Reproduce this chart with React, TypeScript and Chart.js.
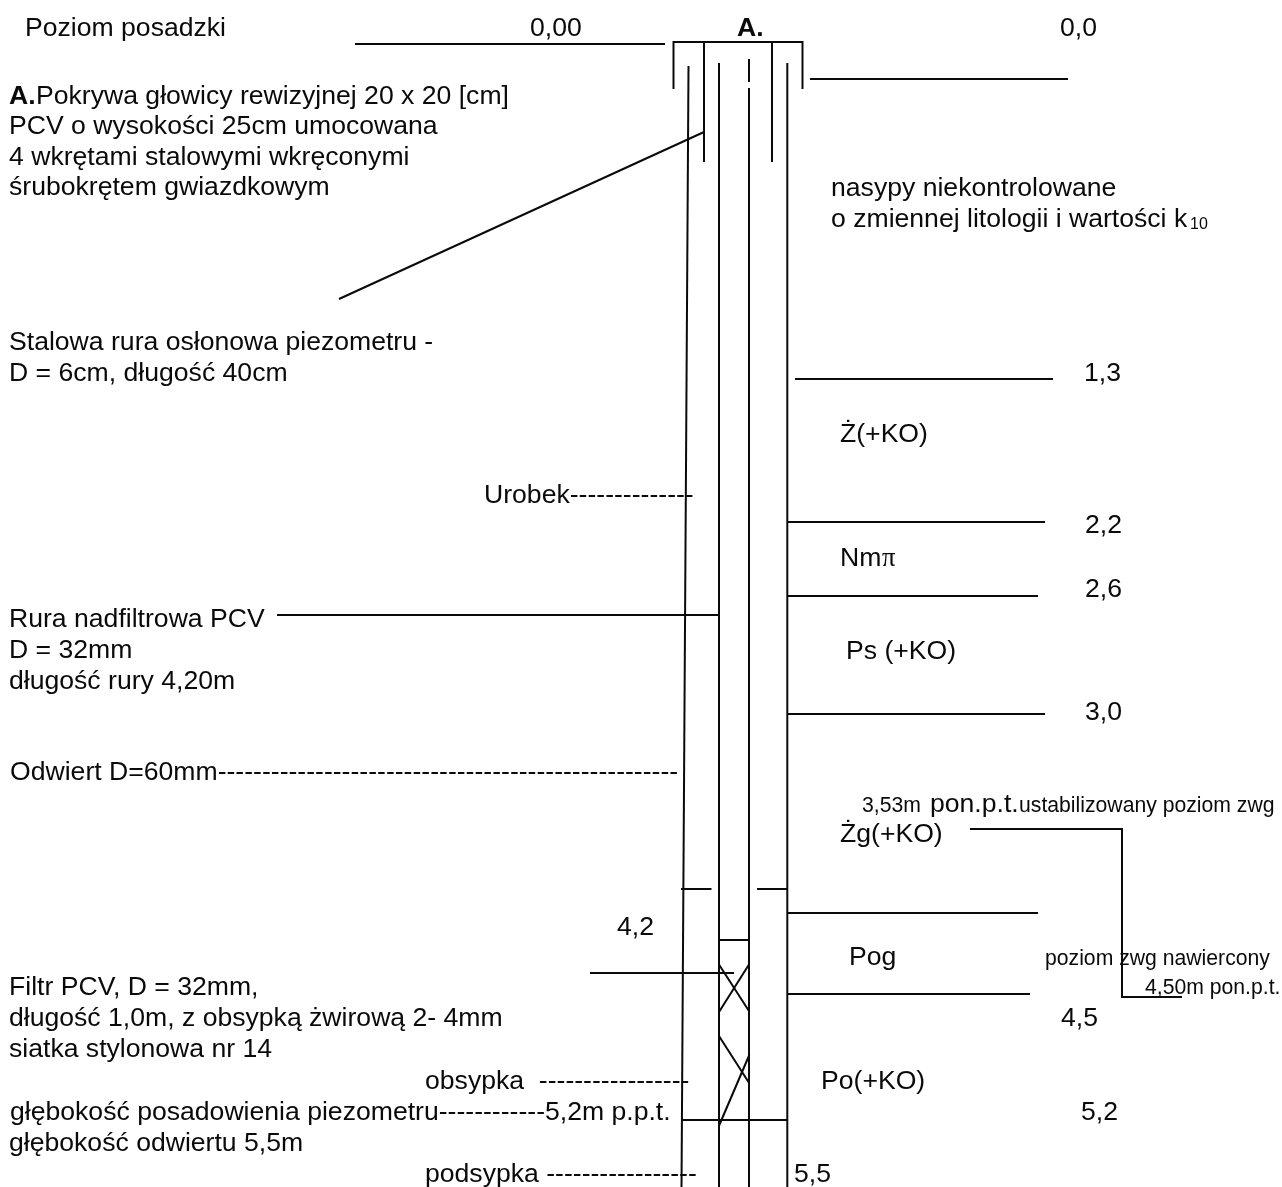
import React, { useEffect, useRef } from "react";
import { Chart, registerables } from "chart.js";

Chart.register(...registerables);

// Drawing units: the sheet is measured 0..1282 across and 0..1187 down.
const SHEET_WIDTH = 1282;
const SHEET_HEIGHT = 1187;

// Well head and casing
const headCap = [[673.5, 89], [673.5, 42], [802.5, 42], [802.5, 89]];
const casingLeft = [[704, 42], [704, 162]];
const casingRight = [[772, 42], [772, 162]];
// Bore and pipe walls
const boreLeft = [[688.5, 66], [681.5, 1187]];
const pipeLeft = [[719, 63], [719, 1187]];
const pipeRightTop = [[749, 59], [749, 82]];
const pipeRight = [[749, 88], [749, 1187]];
const boreRight = [[787.3, 63], [787.3, 1187]];
// Leader lines
const floorLeader = [[355, 44], [665, 44]];
const coverLeader = [[704, 132], [339, 299]];
const riserLeader = [[277, 615], [719, 615]];
const filterLeader = [[590, 973], [734, 973]];
const waterLeader = [[970, 829], [1122, 829], [1122, 997], [1182, 997]];
// Stratum boundaries
const layer00 = [[810, 79], [1068, 79]];
const layer13 = [[795, 379], [1053, 379]];
const layer22 = [[787, 522], [1045, 522]];
const layer26 = [[787, 596], [1038, 596]];
const layer30 = [[787, 714], [1045, 714]];
const layer42 = [[787, 913], [1038, 913]];
const layer45 = [[787, 994], [1030, 994]];
// Ticks and filter crosses
const sealLeft = [[681, 889], [711.5, 889]];
const sealRight = [[757, 889], [787, 889]];
const filterTop = [[719, 940], [749, 940]];
const crossA1 = [[719.3, 965], [749.3, 1011.5]];
const crossA2 = [[749.3, 964], [719.3, 1011.5]];
const crossB1 = [[719.3, 1036.5], [749.3, 1083.3]];
const crossB2 = [[749.3, 1055], [719.3, 1125]];
const bottomLine = [[681, 1120], [787, 1120]];
const speck = [[1130, 817], [1130.8, 817]];

const polylines = [
  headCap, casingLeft, casingRight, boreLeft, pipeLeft, pipeRightTop, pipeRight, boreRight,
  floorLeader, coverLeader, riserLeader, filterLeader, waterLeader,
  layer00, layer13, layer22, layer26, layer30, layer42, layer45,
  sealLeft, sealRight, filterTop, crossA1, crossA2, crossB1, crossB2, bottomLine, speck,
];

const labels = [
  "Poziom posadzki", "0,00", "0,0",
  "Pokrywa głowicy rewizyjnej 20 x 20 [cm]", "PCV o wysokości 25cm umocowana",
  "4 wkrętami stalowymi wkręconymi", "śrubokrętem gwiazdkowym",
  "nasypy niekontrolowane", "o zmiennej litologii i wartości k",
  "Stalowa rura osłonowa piezometru -", "D = 6cm, długość 40cm", "1,3", "Ż(+KO)",
  "Urobek--------------", "2,2", "Nm", "2,6", "Rura nadfiltrowa PCV", "Ps (+KO)",
  "D = 32mm", "długość rury 4,20m", "3,0",
  "Odwiert D=60mm----------------------------------------------------",
  "pon.p.t.", "Żg(+KO)", "4,2", "Pog", "Filtr PCV, D = 32mm,",
  "długość 1,0m, z obsypką żwirową 2- 4mm", "4,5", "siatka stylonowa nr 14",
  "obsypka  -----------------", "Po(+KO)",
  "głębokość posadowienia piezometru------------5,2m p.p.t.", "5,2",
  "głębokość odwiertu 5,5m", "podsypka -----------------", "5,5",
];
const labelAnchors = [
  [25, 36], [530, 36], [1060, 36],
  [36, 104], [9, 134], [9, 165], [9, 195], [831, 196], [831, 227],
  [9, 350], [9, 381], [1084, 381], [840, 442],
  [484, 503], [1085, 533], [840, 566], [1085, 597], [9, 627], [846, 659],
  [9, 658], [9, 689], [1085, 720], [10, 780],
  [930, 812], [840, 842], [617, 935], [849, 965], [9, 995],
  [9, 1026], [1061, 1026], [9, 1057], [425, 1089], [821, 1089],
  [10, 1120], [1081, 1120], [9, 1151], [425, 1182], [794, 1182],
];

const boldLabels = ["A.", "A."];
const boldAnchors = [[737, 36], [9, 104]];

const smallLabels = [
  "3,53m", "ustabilizowany poziom zwg", "poziom zwg nawiercony", "4,50m pon.p.t.",
];
const smallAnchors = [[862, 812], [1019, 812], [1045, 965], [1145, 994]];

const subscriptLabels = ["10"];
const subscriptAnchors = [[1190, 229]];
const symbolLabels = ["π"];
const symbolAnchors = [[882, 566]];

const FONT = '"Liberation Sans", Arial, sans-serif';
const INK = "#0a0a0a";
const MAIN_SIZE = 26.6;
const SMALL_SIZE = 21.2;
const SUB_SIZE = 16;

const textPlugin = {
  id: "sheetText",
  afterDatasetsDraw(chart: any) {
    const { ctx, scales } = chart;
    const put = (texts: string[], anchors: number[][], font: string) => {
      ctx.font = font;
      texts.forEach((t, i) => {
        ctx.fillText(t, scales.x.getPixelForValue(anchors[i][0]), scales.y.getPixelForValue(anchors[i][1]));
      });
    };
    ctx.save();
    ctx.fillStyle = INK;
    ctx.textAlign = "left";
    ctx.textBaseline = "alphabetic";
    put(labels, labelAnchors, `${MAIN_SIZE}px ${FONT}`);
    put(boldLabels, boldAnchors, `bold ${MAIN_SIZE}px ${FONT}`);
    put(smallLabels, smallAnchors, `${SMALL_SIZE}px ${FONT}`);
    put(subscriptLabels, subscriptAnchors, `${SUB_SIZE}px ${FONT}`);
    put(symbolLabels, symbolAnchors, `${MAIN_SIZE}px "Liberation Serif", serif`);
    ctx.restore();
  },
};

export default function App() {
  const ref = useRef<HTMLCanvasElement | null>(null);
  useEffect(() => {
    if (!ref.current) return;
    const chart = new Chart(ref.current, {
      type: "scatter",
      data: {
        datasets: polylines.map((line) => ({
          data: line.map(([x, y]) => ({ x, y })),
          showLine: true,
          borderColor: "#0a0a0a",
          borderWidth: 2,
          pointRadius: 0,
          fill: false,
          tension: 0,
        })),
      },
      options: {
        animation: false,
        responsive: false,
        devicePixelRatio: 1,
        layout: { padding: 0 },
        plugins: { legend: { display: false }, tooltip: { enabled: false } },
        scales: {
          x: { type: "linear", min: 0, max: SHEET_WIDTH, display: false },
          y: { type: "linear", min: 0, max: SHEET_HEIGHT, reverse: true, display: false },
        },
      },
      plugins: [textPlugin],
    } as any);
    return () => chart.destroy();
  }, []);
  return (
    <div style={{ position: "absolute", left: 0, top: 0, width: SHEET_WIDTH, height: SHEET_HEIGHT, background: "#fff" }}>
      <canvas ref={ref} width={SHEET_WIDTH} height={SHEET_HEIGHT} style={{ display: "block" }} />
    </div>
  );
}
